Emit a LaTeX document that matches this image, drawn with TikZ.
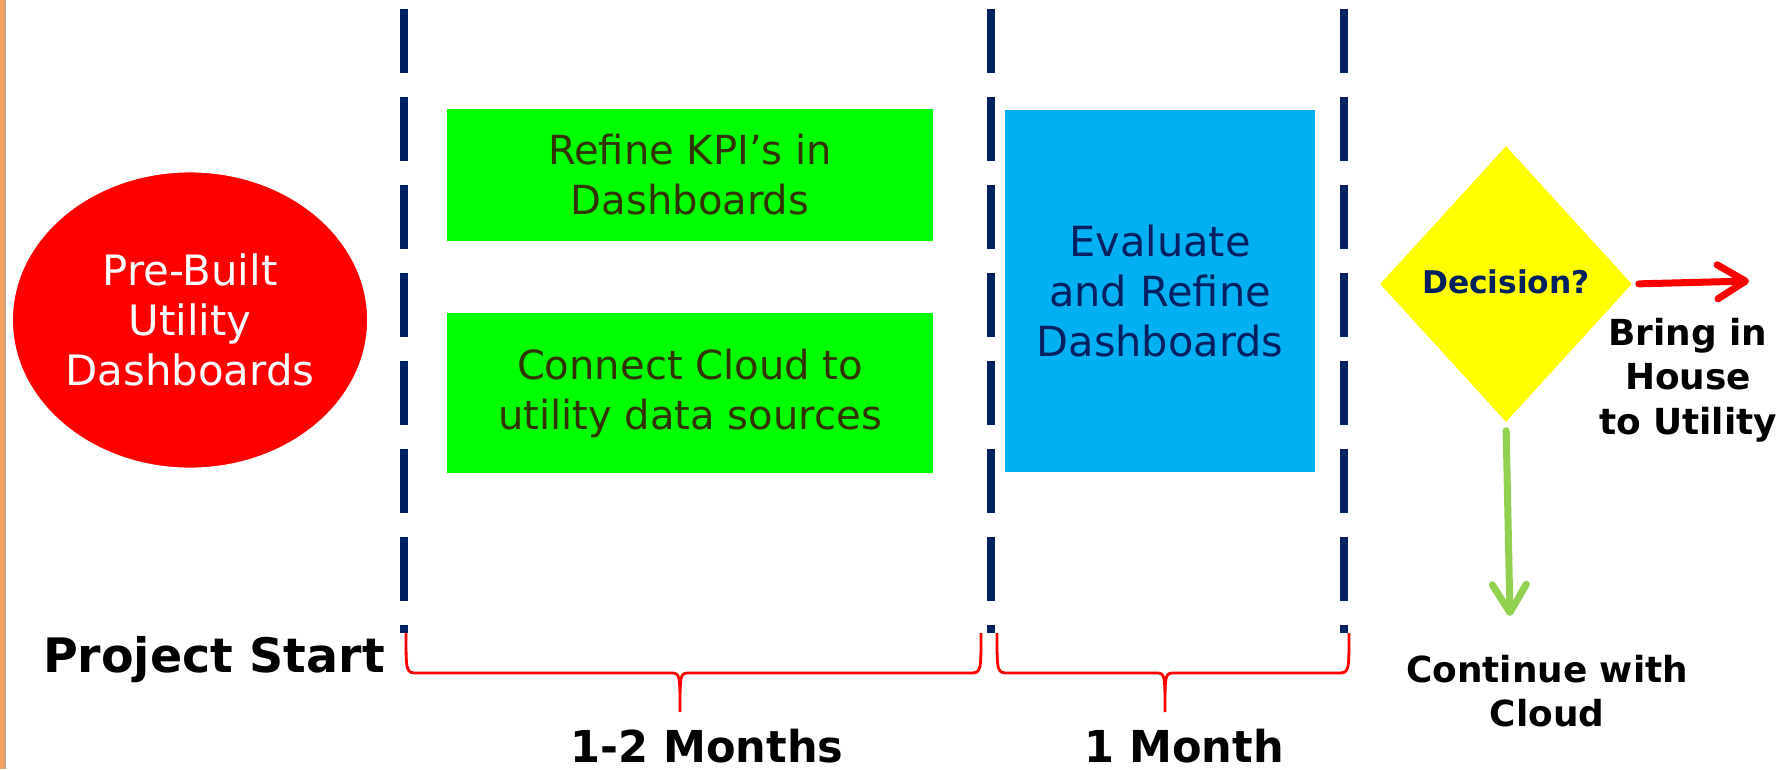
\documentclass[tikz,border=0pt]{standalone}
\usepackage{fontspec}
\setmainfont{DejaVu Sans}
\newfontfamily\condfont[FakeStretch=0.98]{DejaVu Sans}
\usepackage{xcolor}
\usetikzlibrary{shapes.geometric,arrows.meta,positioning}
\definecolor{navy}{HTML}{002060}
\definecolor{limegreen}{HTML}{00FF00}
\definecolor{skyblue}{HTML}{00B0F0}
\definecolor{darkolive}{HTML}{333300}
\definecolor{leafgreen}{HTML}{92D050}
\definecolor{edgeorange}{HTML}{F0A060}
\definecolor{signyellow}{HTML}{FFFF00}

\begin{document}
\begin{tikzpicture}[x=0.01cm,y=-0.01cm,
	divider/.style={navy,line width=0.08cm,dash pattern=on 0.64cm off 0.24cm},
	task/.style={rectangle,fill=limegreen,text=darkolive,minimum width=4.85cm,inner sep=0pt,align=center,font=\fontsize{11.4}{14.2}\selectfont},
	spanline/.style={red,line width=0.8pt},
	result/.style={align=center,font=\fontsize{10.2}{12.6}\selectfont\bfseries},
	choice/.style={line width=0.07cm,-{Straight Barb[length=0.28cm,width=0.34cm,round]},line cap=round}]
	\useasboundingbox (0,0) rectangle (1791,769);
	\fill[edgeorange] (0,0) rectangle (5,769);
	\draw[gray!70,line width=0.5pt] (5.5,0) -- (5.5,769);
	
	\foreach \xx in {404,991,1344}{
		\draw[divider] (\xx,9) -- (\xx,633);
	}
	
	\node[ellipse,fill=red,draw=white,line width=0.04cm,minimum width=3.58cm,minimum height=2.99cm,inner sep=0pt,text=white,align=center,font=\fontsize{11.9}{14.2}\selectfont] (prebuilt) at (190,320) {Pre-Built\\Utility\\Dashboards};
	
	\node[task,minimum height=1.31cm] (kpi) at (690,175) {Refine KPI’s in\\Dashboards};
	\node[task,minimum height=1.59cm] (connect) at (690,393) {Connect Cloud to\\utility data sources};
	\node[rectangle,fill=skyblue,text=navy,minimum width=3.09cm,minimum height=3.62cm,inner sep=0pt,align=center,font=\fontsize{11.8}{14.2}\selectfont] (evaluate) at (1160,291) {Evaluate\\and Refine\\Dashboards};
	
	\node[diamond,fill=signyellow,minimum width=2.52cm,minimum height=2.76cm,inner sep=0pt,text=navy,font=\fontsize{8.9}{10.6}\selectfont\bfseries] (decision) at (1506,284) {\raisebox{0.05cm}{Decision?}};
	
	\coordinate (redend) at (1749,281);
	\coordinate (greenend) at (1510,616);
	\draw[choice,red,shorten <=0.06cm] (decision.east) -- (redend);
	\draw[choice,leafgreen,shorten <=0.08cm] (decision.south) -- (greenend);
	
	\node[result] (inhouse) at (1688,380) {Bring in\\House\\to Utility};
	\node[result] (cloud) at (1547,691) {Continue with\\Cloud};
	
	\node[font=\fontsize{13.5}{16}\selectfont\bfseries] (start) at (214,660) {Project Start};
	
	\foreach \a/\m/\b in {406/680/981,997/1165/1349}{
		\draw[spanline] (\a,633) .. controls (\a,673) and (\a,673) .. ({\a+12},673) -- ({\m-10},673) .. controls (\m,673) .. (\m,712) .. controls (\m,673) .. ({\m+10},673) -- ({\b-12},673) .. controls (\b,673) and (\b,673) .. (\b,633);
	}
	\node[font=\fontsize{12.5}{15}\selectfont\condfont\bfseries] (twomonths) at (707,746) {1-2 Months};
	\node[font=\fontsize{12.5}{15}\selectfont\condfont\bfseries] (onemonth) at (1184,746) {1 Month};
\end{tikzpicture}
\end{document}
